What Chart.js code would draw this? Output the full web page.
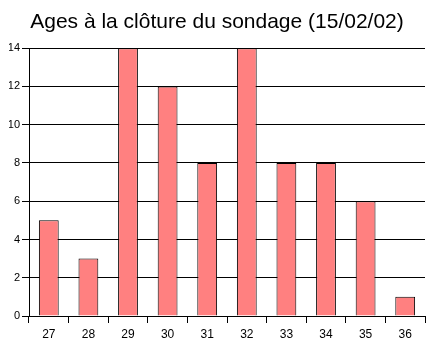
<!DOCTYPE html>
<html>
<head>
<meta charset="utf-8">
<script src="https://cdn.jsdelivr.net/npm/chart.js@4"></script>
<style>
  html, body { margin: 0; padding: 0; background: #fff; }
  #wrap { width: 434px; height: 348px; }
</style>
</head>
<body>
<div id="wrap"><canvas id="chart1"></canvas></div>
<script>
const ages = ['27', '28', '29', '30', '31', '32', '33', '34', '35', '36'];
const counts = [5, 3, 14, 12, 8, 14, 8, 8, 6, 1];
const titleText = 'Ages à la clôture du sondage (15/02/02)';

document.addEventListener('DOMContentLoaded', () => {
    const chart1 = document.getElementById('chart1');
    new Chart(chart1.getContext('2d'), {
        type: 'bar',
        data: {
            labels: ages,
            datasets: [{
                data: counts,
                backgroundColor: '#ff8080',
                borderColor: '#000',
                borderWidth: 1,
                barPercentage: 0.5,
                categoryPercentage: 1
            }]
        },
        options: {
            responsive: true,
            maintainAspectRatio: false,
            animation: false,
            layout: {
                padding: { left: 9, right: 9, top: 0, bottom: 0 }
            },
            plugins: {
                legend: { display: false },
                tooltip: { enabled: false },
                title: {
                    display: true,
                    text: titleText,
                    color: '#000',
                    font: { family: 'Liberation Sans, Arial, sans-serif', size: 21, weight: 'normal' },
                    padding: { top: 10, bottom: 13 }
                }
            },
            scales: {
                y: {
                    min: 0,
                    max: 14,
                    ticks: {
                        stepSize: 2,
                        color: '#000',
                        padding: 2,
                        font: { family: 'Liberation Sans, Arial, sans-serif', size: 11 }
                    },
                    grid: {
                        color: '#000',
                        tickLength: 7,
                        lineWidth: 1
                    },
                    border: { color: '#000' },
                    afterFit: (scale) => { scale.width = 20; }
                },
                x: {
                    ticks: {
                        color: '#000',
                        padding: 4,
                        font: { family: 'Liberation Sans, Arial, sans-serif', size: 12 }
                    },
                    grid: {
                        offset: true,
                        drawOnChartArea: false,
                        color: '#000',
                        tickLength: 7
                    },
                    border: { color: '#000' },
                    afterFit: (scale) => { scale.height = 32; }
                }
            }
        }
    });
});
</script>
</body>
</html>
